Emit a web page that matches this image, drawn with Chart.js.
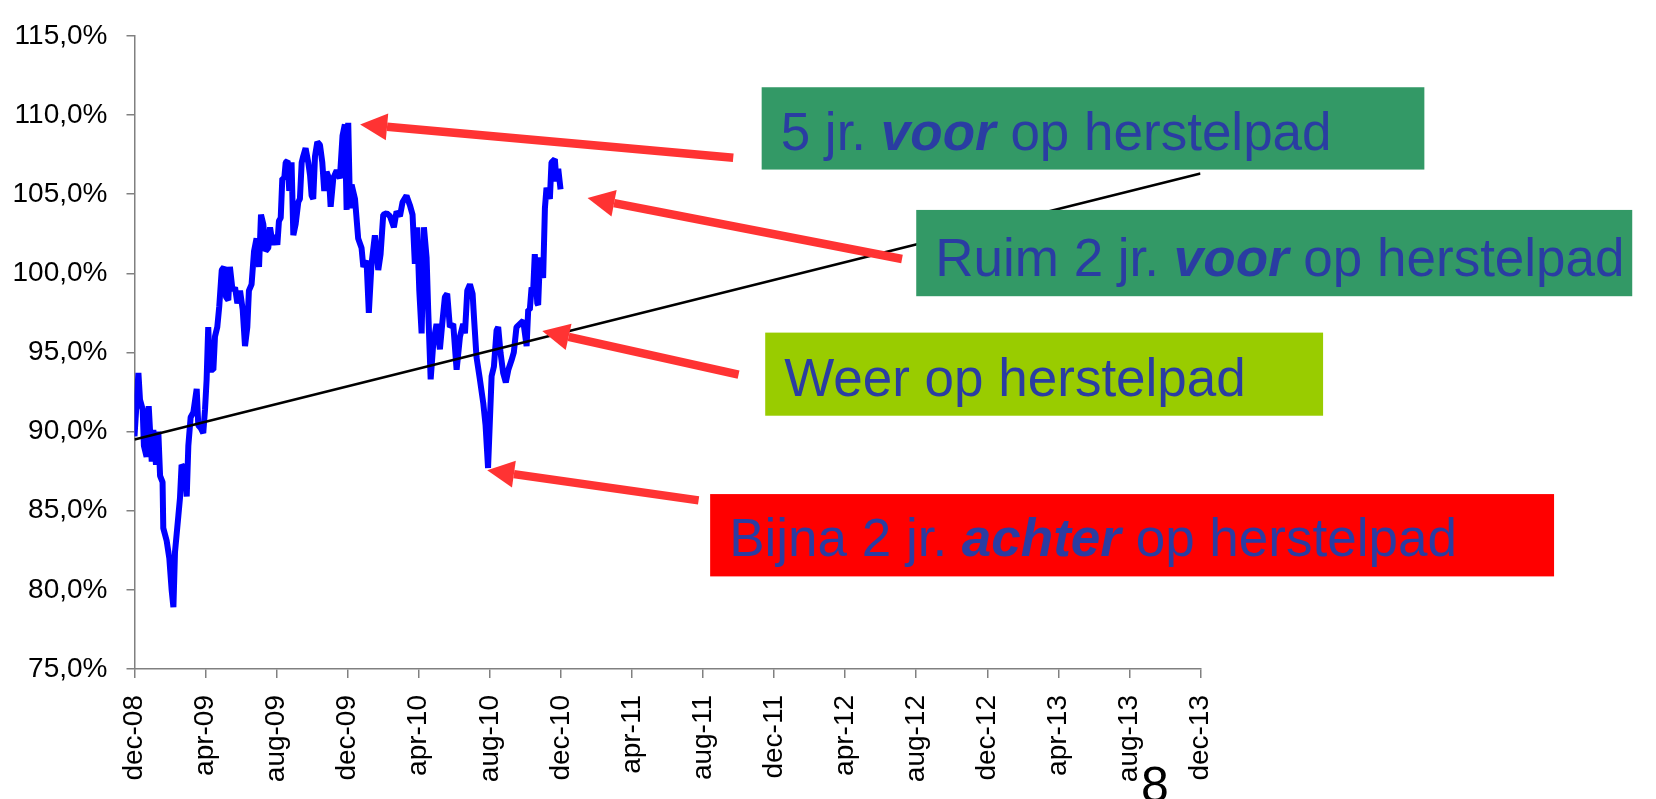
<!DOCTYPE html>
<html>
<head>
<meta charset="utf-8">
<script src="https://cdn.jsdelivr.net/npm/chart.js@4.4.1/dist/chart.umd.min.js"></script>
<style>
  body { margin: 0; background: #fff; }
  #wrap { width: 1656px; height: 799px; position: relative; }
</style>
</head>
<body>
<div id="wrap"><canvas id="myChart"></canvas></div>
<script>
// x-as labels (elke 4 maanden vanaf dec-08)
const tickLabels = ['dec-08', 'apr-09', 'aug-09', 'dec-09', 'apr-10', 'aug-10', 'dec-10', 'apr-11',
  'aug-11', 'dec-11', 'apr-12', 'aug-12', 'dec-12', 'apr-13', 'aug-13', 'dec-13'];

// dekkingsgraad: maanden na dec-08 en waarde in %
const months = [0.0, 0.22, 0.31, 0.46, 0.53, 0.68, 0.80, 0.97, 1.06, 1.21, 1.34, 1.44, 1.58, 1.62, 1.81, 1.96,
  2.09, 2.19, 2.28, 2.47, 2.56, 2.65, 2.84, 2.94, 3.03, 3.16, 3.31, 3.50, 3.59, 3.74, 3.87, 3.97,
  4.06, 4.15, 4.25, 4.44, 4.53, 4.66, 4.77, 4.91, 5.04, 5.15, 5.28, 5.37, 5.52, 5.66, 5.79, 5.94,
  6.09, 6.22, 6.35, 6.44, 6.59, 6.73, 6.87, 7.01, 7.12, 7.25, 7.38, 7.53, 7.63, 7.78, 7.91, 8.04,
  8.13, 8.23, 8.32, 8.43, 8.51, 8.62, 8.71, 8.84, 8.94, 9.07, 9.22, 9.31, 9.41, 9.50, 9.63, 9.78,
  9.88, 9.97, 10.06, 10.16, 10.29, 10.44, 10.57, 10.68, 10.81, 10.95, 11.04, 11.19, 11.38, 11.56, 11.71, 11.84,
  11.94, 12.03, 12.13, 12.22, 12.41, 12.59, 12.78, 12.88, 13.06, 13.19, 13.34, 13.53, 13.72, 13.85, 14.0, 14.19,
  14.38, 14.6, 14.75, 14.94, 15.09, 15.31, 15.5, 15.65, 15.78, 15.91, 16.03, 16.16, 16.29, 16.44, 16.53, 16.67,
  16.82, 17.0, 17.19, 17.32, 17.47, 17.6, 17.75, 17.94, 18.13, 18.32, 18.5, 18.6, 18.73, 18.88, 19.03, 19.12,
  19.25, 19.44, 19.63, 19.76, 19.9, 20.1, 20.23, 20.38, 20.47, 20.6, 20.75, 20.9, 21.04, 21.22, 21.35, 21.5,
  21.69, 21.88, 22.07, 22.16, 22.25, 22.35, 22.44, 22.53, 22.67, 22.72, 22.82, 23.0, 23.1, 23.19, 23.38, 23.47,
  23.66, 23.75, 23.85, 23.98];
const dekking = [89.7, 93.7, 92.0, 91.4, 89.1, 88.4, 91.6, 88.1, 90.1, 87.9, 90.0, 87.2, 86.8, 83.9, 83.1, 82.0,
  80.0, 78.9, 82.4, 84.7, 85.8, 87.9, 87.6, 85.9, 89.1, 90.9, 91.2, 92.7, 90.4, 90.2, 89.9, 91.4,
  93.3, 96.6, 93.9, 93.9, 96.0, 96.6, 97.9, 100.2, 100.4, 98.5, 98.3, 100.4, 98.9, 99.1, 98.1, 98.9,
  97.7, 95.4, 96.6, 98.9, 99.3, 101.4, 102.2, 100.4, 103.7, 103.1, 101.4, 101.6, 102.9, 101.8, 102.4, 101.8,
  103.3, 103.5, 106.0, 106.0, 107.0, 107.1, 105.2, 107.0, 102.4, 103.1, 104.5, 104.7, 107.0, 107.4, 107.9, 107.0,
  106.2, 104.9, 104.7, 107.4, 108.3, 108.1, 107.0, 105.2, 106.4, 106.0, 104.2, 106.0, 106.5, 106.0, 108.7, 109.4,
  104.0, 109.5, 104.1, 105.6, 104.7, 102.2, 101.6, 100.4, 100.8, 97.5, 100.6, 102.4, 100.2, 101.2, 103.7, 103.8,
  103.6, 102.9, 103.9, 103.6, 104.5, 104.9, 104.3, 103.7, 100.6, 102.9, 98.9, 96.2, 102.9, 101.0, 97.7, 93.3,
  95.6, 96.8, 95.2, 96.8, 98.5, 98.7, 96.6, 96.8, 93.9, 96.0, 96.8, 96.2, 98.9, 99.3, 98.7, 97.0,
  94.7, 93.3, 91.8, 90.4, 87.7, 93.5, 94.1, 96.4, 96.6, 95.0, 93.7, 93.1, 93.9, 94.5, 95.0, 96.6,
  96.8, 97.0, 95.4, 97.7, 97.7, 99.1, 98.9, 101.2, 98.1, 98.0, 101.0, 99.7, 104.1, 105.4, 104.7, 107.0,
  107.2, 105.8, 106.6, 105.3];

// herstelpad (begin en eind)
const padMonths = [0, 60];
const herstelpad = [89.5, 106.3];

// tekstvakken met pijl; box = [x1, y1, x2, y2] en arrow = [van x, van y, naar x, naar y] in maanden / %
const callouts = [
  { box: [35.3, 111.75, 72.6, 106.55], fill: '#339966',
    parts: [['5 jr. ', false], ['voor', true], [' op herstelpad', false]],
    arrow: [33.7, 107.3, 12.7, 109.4] },
  { box: [44.0, 104.0, 84.3, 98.55], fill: '#339966',
    parts: [['Ruim 2 jr. ', false], ['voor', true], [' op herstelpad', false]],
    arrow: [43.2, 100.9, 25.5, 104.75] },
  { box: [35.5, 96.25, 66.9, 91.0], fill: '#99cc00',
    parts: [['Weer op herstelpad', false]],
    arrow: [34.0, 93.6, 22.95, 96.35] },
  { box: [32.4, 86.05, 79.9, 80.85], fill: '#ff0000',
    parts: [['Bijna 2 jr. ', false], ['achter', true], [' op herstelpad', false]],
    arrow: [31.75, 85.65, 19.85, 87.55] },
];

const calloutPlugin = {
  id: 'callouts',
  afterDraw: function (chart) {
    const { ctx, scales: { x, y } } = chart;
    ctx.save();

    // pijlen
    callouts.forEach(function (c) {
      const x1 = x.getPixelForValue(c.arrow[0]), y1 = y.getPixelForValue(c.arrow[1]);
      const x2 = x.getPixelForValue(c.arrow[2]), y2 = y.getPixelForValue(c.arrow[3]);
      const ang = Math.atan2(y2 - y1, x2 - x1);
      const headLen = 27, headW = 13.5;
      const bx = x2 - headLen * Math.cos(ang), by = y2 - headLen * Math.sin(ang);
      ctx.strokeStyle = '#ff3333';
      ctx.fillStyle = '#ff3333';
      ctx.lineWidth = 8.5;
      ctx.beginPath();
      ctx.moveTo(x1, y1);
      ctx.lineTo(bx, by);
      ctx.stroke();
      ctx.beginPath();
      ctx.moveTo(x2, y2);
      ctx.lineTo(bx + headW * Math.sin(ang), by - headW * Math.cos(ang));
      ctx.lineTo(bx - headW * Math.sin(ang), by + headW * Math.cos(ang));
      ctx.closePath();
      ctx.fill();
    });

    // vakken met tekst
    callouts.forEach(function (c) {
      const left = x.getPixelForValue(c.box[0]), top = y.getPixelForValue(c.box[1]);
      const right = x.getPixelForValue(c.box[2]), bottom = y.getPixelForValue(c.box[3]);
      ctx.fillStyle = c.fill;
      ctx.fillRect(left, top, right - left, bottom - top);
      ctx.fillStyle = '#2a3da2';
      ctx.textAlign = 'left';
      ctx.textBaseline = 'alphabetic';
      let tx = left + 19;
      c.parts.forEach(function (p) {
        ctx.font = (p[1] ? 'italic bold ' : '') + '53px "Liberation Sans"';
        ctx.fillText(p[0], tx, bottom - 20);
        tx += ctx.measureText(p[0]).width;
      });
    });

    // paginanummer
    ctx.fillStyle = '#000';
    ctx.font = '50px "Liberation Sans"';
    ctx.fillText('8', 1141, 802);
    ctx.restore();
  }
};

const tickFont = { family: 'Liberation Sans', size: 28 };

new Chart(document.getElementById('myChart'), {
  type: 'line',
  data: {
    datasets: [
      {
        label: 'herstelpad',
        data: padMonths.map((m, i) => ({ x: m, y: herstelpad[i] })),
        borderColor: '#000000',
        borderWidth: 2.5,
        pointRadius: 0,
        order: 0,
      },
      {
        label: 'dekkingsgraad',
        data: months.map((m, i) => ({ x: m, y: dekking[i] })),
        borderColor: '#0000ff',
        borderWidth: 6,
        borderJoinStyle: 'bevel',
        pointRadius: 0,
        order: 1,
      },
    ],
  },
  options: {
    responsive: true,
    maintainAspectRatio: false,
    animation: false,
    layout: { padding: { top: 29, right: 455.5, left: 0, bottom: 0 } },
    plugins: {
      legend: { display: false },
      tooltip: { enabled: false },
    },
    scales: {
      x: {
        type: 'linear',
        min: 0,
        max: 60,
        afterFit: function (scale) { scale.height = 130; },
        border: { color: '#808080', width: 1.5 },
        grid: { drawOnChartArea: false, tickLength: 9, color: '#808080', lineWidth: 1.5 },
        ticks: {
          stepSize: 4,
          autoSkip: false,
          minRotation: 90,
          maxRotation: 90,
          padding: 17,
          color: '#000',
          font: tickFont,
          callback: (v) => tickLabels[v / 4],
        },
      },
      y: {
        min: 75,
        max: 115,
        afterFit: function (scale) { scale.width = 134.5; },
        border: { color: '#808080', width: 1.5 },
        grid: { drawOnChartArea: false, tickLength: 8, color: '#808080', lineWidth: 1.5 },
        ticks: {
          stepSize: 5,
          padding: 19,
          color: '#000',
          font: tickFont,
          callback: (v) => v.toFixed(1).replace('.', ',') + '%',
        },
      },
    },
  },
  plugins: [calloutPlugin],
});
</script>
</body>
</html>
